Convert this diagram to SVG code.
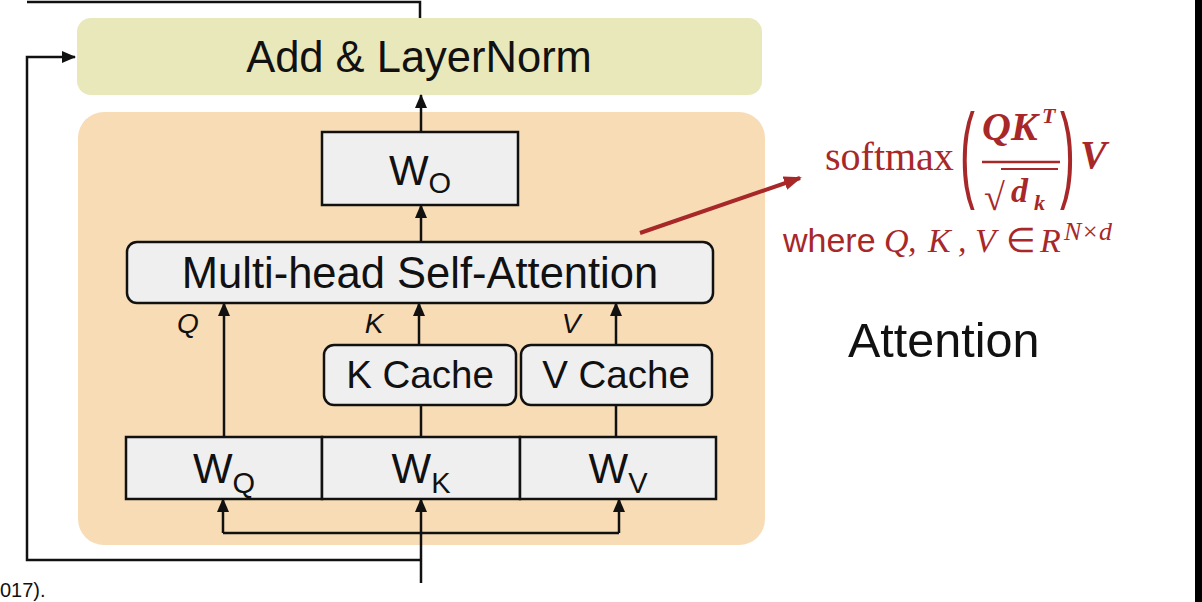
<svg xmlns="http://www.w3.org/2000/svg" width="1202" height="602" viewBox="0 0 1202 602">
<defs>
<marker id="ah" markerWidth="14" markerHeight="14" refX="13" refY="6" orient="auto" markerUnits="userSpaceOnUse">
<path d="M0,0 L14,6 L0,12 Z" fill="#111"/>
</marker>
<marker id="ahr" markerWidth="18" markerHeight="16" refX="16" refY="7" orient="auto" markerUnits="userSpaceOnUse">
<path d="M0,0 L18,7 L0,14 Z" fill="#a8282a"/>
</marker>
<style>
.box{fill:#efefef;stroke:#111;stroke-width:2.5}
.lbl{font-family:"Liberation Sans",Arial,sans-serif;fill:#111;text-anchor:middle}
.con{fill:none;stroke:#111;stroke-width:2.5}
.arr{fill:none;stroke:#111;stroke-width:2.5;marker-end:url(#ah)}
.red{fill:#a8282a}
.ser{font-family:"Liberation Serif","Times New Roman",serif}
.sbi{font-family:"Liberation Serif","Times New Roman",serif;font-weight:bold;font-style:italic}
</style>
</defs>
<rect x="0" y="0" width="1202" height="602" fill="#ffffff"/>
<rect x="1195" y="0" width="7" height="602" fill="#000"/>

<g id="attention-block">
<rect x="78" y="112" width="687" height="433" rx="26" fill="#f7dcb6"/>
</g>

<g id="add-layernorm">
<rect x="77" y="18" width="685" height="77" rx="14" fill="#e9e8bb"/>
<text class="lbl" x="419" y="72" font-size="43.5">Add &amp; LayerNorm</text>
</g>

<g id="wo">
<rect class="box" x="322" y="132" width="196" height="73"/>
<text class="lbl" x="420" y="185" font-size="42"><tspan>W</tspan><tspan font-size="29" dy="8">O</tspan></text>
</g>

<g id="mhsa">
<rect class="box" x="127" y="242" width="586" height="61" rx="10"/>
<text class="lbl" x="420" y="288" font-size="43.5">Multi-head Self-Attention</text>
</g>

<g id="k-cache">
<rect class="box" x="324" y="345" width="192" height="60" rx="10"/>
<text class="lbl" x="420" y="388" font-size="38.5">K Cache</text>
</g>

<g id="v-cache">
<rect class="box" x="521" y="345" width="191" height="60" rx="10"/>
<text class="lbl" x="616" y="388" font-size="38.5">V Cache</text>
</g>

<g id="wq">
<rect class="box" x="126" y="437" width="196" height="62"/>
<text class="lbl" x="224" y="483" font-size="42"><tspan>W</tspan><tspan font-size="29" dy="10">Q</tspan></text>
</g>
<g id="wk">
<rect class="box" x="322" y="437" width="198" height="62"/>
<text class="lbl" x="421" y="483" font-size="42"><tspan>W</tspan><tspan font-size="29" dy="10">K</tspan></text>
</g>
<g id="wv">
<rect class="box" x="520" y="437" width="196" height="62"/>
<text class="lbl" x="618" y="483" font-size="42"><tspan>W</tspan><tspan font-size="29" dy="10">V</tspan></text>
</g>

<g id="connectors">
<polyline class="con" points="27,2 420,2 420,18"/>
<polyline class="arr" points="421,560 27,560 27,57 75,57"/>
<line class="arr" x1="421" y1="583" x2="421" y2="499"/>
<polyline class="con" points="223,533 619,533"/>
<line class="arr" x1="223" y1="533" x2="223" y2="499"/>
<line class="arr" x1="619" y1="533" x2="619" y2="499"/>
<line class="arr" x1="224" y1="437" x2="224" y2="303"/>
<line class="con" x1="421" y1="437" x2="421" y2="405"/>
<line class="con" x1="616" y1="437" x2="616" y2="405"/>
<line class="arr" x1="419" y1="345" x2="419" y2="303"/>
<line class="arr" x1="616" y1="345" x2="616" y2="303"/>
<line class="arr" x1="421" y1="242" x2="421" y2="205"/>
<line class="arr" x1="421" y1="132" x2="421" y2="95"/>
<line x1="640" y1="233" x2="800" y2="178" stroke="#a8282a" stroke-width="4" marker-end="url(#ahr)"/>
</g>

<g id="qkv-labels" font-family="Liberation Sans,Arial,sans-serif" font-style="italic" font-size="28" fill="#111" text-anchor="middle">
<text x="188" y="333">Q</text>
<text x="374" y="333">K</text>
<text x="571" y="333">V</text>
</g>

<g id="formula" class="red">
<text class="ser" x="825" y="170" font-size="40">softmax</text>
<text transform="translate(960,188) scale(0.42,1)" font-size="106" font-family="Liberation Sans,Arial,sans-serif">(</text>
<text transform="translate(1060,188) scale(0.42,1)" font-size="106" font-family="Liberation Sans,Arial,sans-serif">)</text>
<text class="sbi" x="982" y="140" font-size="40">QK</text>
<text class="sbi" x="1042" y="123" font-size="22">T</text>
<line x1="982" y1="162" x2="1060" y2="162" stroke="#a8282a" stroke-width="2.5"/>
<text class="ser" x="984" y="210" font-size="38">√</text>
<line x1="1001" y1="169" x2="1058" y2="169" stroke="#a8282a" stroke-width="2"/>
<text class="sbi" x="1011" y="202" font-size="34">d</text>
<text class="sbi" x="1034" y="210" font-size="22">k</text>
<text class="sbi" x="1080" y="168" font-size="40">V</text>
<text x="783" y="252" font-size="34" font-family="Liberation Sans,Arial,sans-serif">where</text>
<text y="252" font-size="34" font-family="Liberation Serif,Times New Roman,serif" font-style="italic"><tspan x="884">Q</tspan><tspan x="908">,</tspan><tspan x="928">K</tspan><tspan x="958">,</tspan><tspan x="975">V</tspan><tspan x="1006" font-style="normal">∈</tspan><tspan x="1040">R</tspan><tspan x="1064" dy="-12" font-size="26">N×d</tspan></text>
</g>

<text x="848" y="357" font-size="48.5" font-family="Liberation Sans,Arial,sans-serif" fill="#111">Attention</text>
<text x="0" y="597" font-size="20" font-family="Liberation Sans,Arial,sans-serif" fill="#111">017).</text>
</svg>
